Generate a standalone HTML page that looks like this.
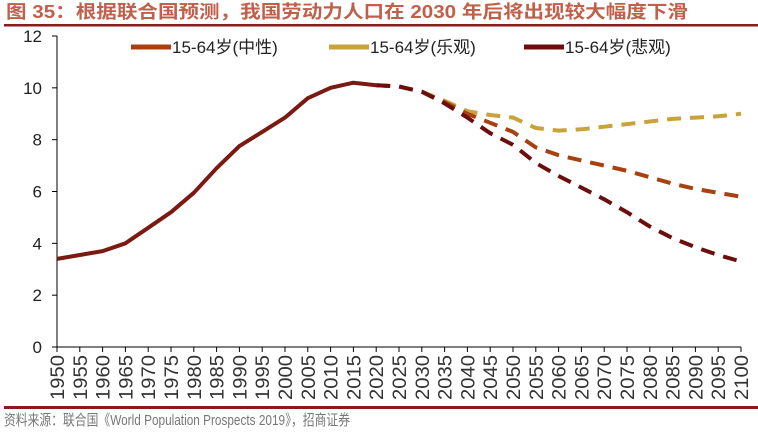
<!DOCTYPE html>
<html><head><meta charset="utf-8"><style>
body{margin:0;background:#fff;width:758px;height:430px;overflow:hidden;font-family:"Liberation Sans","Noto Sans CJK SC",sans-serif}
</style></head><body>
<svg width="758" height="430" xmlns="http://www.w3.org/2000/svg">
<text x="6" y="18" font-size="18" font-weight="bold" fill="#C0604A" textLength="682" lengthAdjust="spacingAndGlyphs" font-family="Liberation Sans,Noto Sans CJK SC,sans-serif">图 35：根据联合国预测，我国劳动力人口在 2030 年后将出现较大幅度下滑</text>
<rect x="4" y="24" width="754" height="2.5" fill="#8B1A1A"/>
<g id="axes"></g>
<g id="lines"></g>
<g id="legend" font-size="17" fill="#222"></g>
<rect x="4" y="406" width="754" height="3" fill="#8B1A1A"/>
<text x="4" y="425" font-size="15" fill="#777" textLength="346" lengthAdjust="spacingAndGlyphs">资料来源：联合国《World Population Prospects 2019》，招商证券</text>
</svg>
<script>
const years=[1950,1955,1960,1965,1970,1975,1980,1985,1990,1995,2000,2005,2010,2015,2020];
const history=[3.4,3.55,3.7,4.0,4.6,5.2,5.95,6.9,7.75,8.3,8.85,9.6,10.0,10.2,10.1];
const projYears=[2020,2025,2030,2035,2040,2045,2050,2055,2060,2065,2070,2075,2080,2085,2090,2095,2100];
const medium=[10.1,10.05,9.85,9.45,9.0,8.65,8.3,7.7,7.4,7.2,7.0,6.8,6.55,6.3,6.1,5.95,5.8];
const optimistic=[10.1,10.05,9.85,9.5,9.1,8.95,8.85,8.45,8.35,8.4,8.5,8.6,8.7,8.8,8.85,8.9,9.0];
const pessimistic=[10.1,10.05,9.85,9.4,8.85,8.25,7.8,7.1,6.6,6.15,5.7,5.2,4.65,4.2,3.85,3.55,3.3];
const yTicks=[0,2,4,6,8,10,12];
const seriesNames=["15-64岁(中性)","15-64岁(乐观)","15-64岁(悲观)"];
const NS="http://www.w3.org/2000/svg";
const X0=57,X1=741,Y0=347,Y1=36;
const xs=y=>X0+(y-1950)/150*(X1-X0);
const ys=v=>Y0-v/12*(Y0-Y1);
function mk(t,a,p){const e=document.createElementNS(NS,t);for(const k in a)e.setAttribute(k,a[k]);p.appendChild(e);return e;}
const ax=document.getElementById('axes');
const yl=mk('line',{x1:X0,y1:Y1,x2:X0,y2:Y0,stroke:'#000','stroke-width':1},ax);


const xl=mk('line',{x1:X0,y1:Y0,x2:X1,y2:Y0,stroke:'#000','stroke-width':1},ax);


yTicks.forEach(v=>{
 mk('line',{x1:X0-5,y1:ys(v),x2:X0,y2:ys(v),stroke:'#000'},ax);
 const t=mk('text',{x:42,y:ys(v)+6,'text-anchor':'end','font-size':17,fill:'#222'},ax);t.textContent=v;
 
 
});
projYears.concat(years).filter((v,i,a)=>a.indexOf(v)===i).sort().forEach(yr=>{
 mk('line',{x1:xs(yr),y1:Y0,x2:xs(yr),y2:Y0+5,stroke:'#000'},ax);
 const t=mk('text',{x:0,y:0,transform:`translate(${xs(yr)+7},${Y0+8}) rotate(-90)`,'text-anchor':'end','font-size':19,fill:'#333',textLength:45,lengthAdjust:'spacingAndGlyphs'},ax);t.textContent=yr;
 
 
});
const ln=document.getElementById('lines');
function path(xv,vals,color,dash,name){
 const d=vals.map((v,i)=>(i?'L':'M')+xs(xv[i]).toFixed(1)+','+ys(v).toFixed(1)).join('');
 const p=mk('path',{d:d,fill:'none',stroke:color,'stroke-width':4,'stroke-dasharray':dash||'none','stroke-linejoin':'round'},ln);
 
 
}
path(projYears,optimistic,'#C9A23A','14,9','line-optimistic');
path(projYears,medium,'#A8400F','14,9','line-medium');
path(projYears,pessimistic,'#6B0E0E','14,9','line-pessimistic');
path(years,history,'#7A1A12',null,'line-history');
const lg=document.getElementById('legend');
const lcol=['#A8400F','#C9A23A','#6B0E0E'];const lx=[131,329,524];
seriesNames.forEach((n,i)=>{
 const g=mk('g',{},lg);
 
 
 mk('line',{x1:lx[i],y1:47,x2:lx[i]+40,y2:47,stroke:lcol[i],'stroke-width':5},g);
 const t=mk('text',{x:lx[i]+41,y:53},g);t.textContent=n;
});
</script>
</body></html>
